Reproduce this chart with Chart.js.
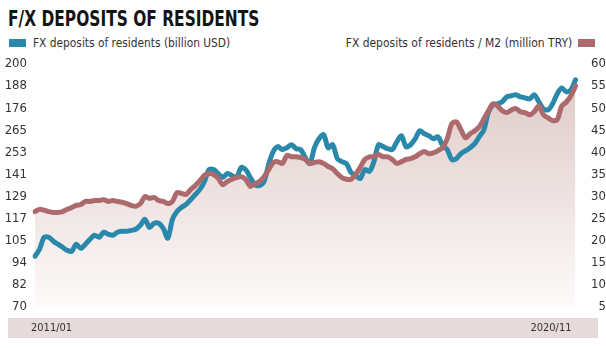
<!DOCTYPE html>
<html>
<head>
<meta charset="utf-8">
<script src="https://cdn.jsdelivr.net/npm/chart.js@4/dist/chart.umd.min.js"></script>
<style>
  body { margin: 0; width: 606px; height: 348px; background: #fff; overflow: hidden; position: relative;
         font-family: 'Liberation Sans Narrow', 'DejaVu Sans Condensed', 'Roboto', sans-serif; }
  #title { position: absolute; left: 8px; top: 6px; font-size: 22px; font-weight: bold; color: #141414;
           white-space: nowrap; transform: scaleX(0.78); transform-origin: left top; }
  .leg { position: absolute; top: 35px; font-size: 13px; color: #333; display: flex; align-items: center; white-space: nowrap; }
  .leg span.box { display: inline-block; width: 17px; height: 8px; }
  #legL { left: 9px; }
  #legL span.box { margin-right: 7px; background: #2a89ab; }
  #legL span.txt { display: inline-block; transform: scaleX(0.91); transform-origin: left center; }
  #legR { right: 11px; }
  #legR span.box { margin-left: 6px; background: #ad6a6c; }
  #legR span.txt { display: inline-block; transform: scaleX(0.92); transform-origin: right center; }
  #wrap { position: absolute; left: 0; top: 0; width: 606px; height: 348px; }
</style>
</head>
<body>
<div id="title">F/X DEPOSITS OF RESIDENTS</div>
<div class="leg" id="legL"><span class="box"></span><span class="txt">FX deposits of residents (billion USD)</span></div>
<div class="leg" id="legR"><span class="txt">FX deposits of residents / M2 (million TRY)</span><span class="box"></span></div>
<div id="wrap"><canvas id="chart" width="606" height="348"></canvas></div>

<script>
const FONT = "'Liberation Sans Narrow', 'DejaVu Sans Condensed', 'Roboto', sans-serif";
const BLUE = "#2a89ab";
const RED = "#ad6a6c";

// left axis tick text, bottom to top, as printed on the chart
const leftTickLabels = ["70", "82", "94", "105", "117", "129", "141", "253", "265", "176", "188", "200"];

// FX deposits of residents, billion USD, monthly 2011/01 - 2020/11
const usdDeposits = [
  97.2, 100.9, 107.3, 107.3, 105.2, 103.6, 102.0, 100.4, 99.8, 103.6,
  101.4, 103.6, 106.2, 108.4, 107.3, 110.0, 108.9, 108.4, 110.0, 110.5,
  110.5, 111.0, 111.6, 113.7, 116.9, 112.6, 114.8, 114.8, 112.1, 106.8,
  116.9, 121.1, 123.3, 124.9, 127.5, 130.2, 132.9, 137.1, 143.5, 143.5,
  141.4, 139.3, 141.4, 140.3, 139.3, 144.6, 143.5, 139.3, 135.5, 135.0,
  137.1, 146.2, 153.1, 155.8, 154.2, 155.2, 156.8, 154.7, 154.2, 149.9,
  146.7, 155.2, 160.0, 162.2, 155.2, 156.8, 149.4, 147.8, 146.7, 141.9,
  140.3, 138.7, 143.5, 142.5, 147.8, 156.8, 155.8, 154.7, 154.2, 158.4,
  161.6, 155.8, 156.8, 160.0, 164.3, 162.7, 161.6, 160.0, 161.1, 156.3,
  154.2, 148.9, 149.4, 152.1, 153.6, 155.2, 157.4, 161.1, 164.8, 174.4,
  178.2, 178.7, 179.8, 182.4, 183.0, 183.5, 182.4, 181.9, 181.4, 183.5,
  179.8, 176.0, 175.5, 178.7, 184.0, 187.2, 185.1, 186.2, 191.5
];

// FX deposits of residents / M2, monthly 2011/01 - 2020/11
const ratioM2 = [
  26.6, 27.1, 26.9, 26.6, 26.4, 26.4, 26.6, 27.1, 27.5, 28.0,
  28.2, 28.9, 28.9, 29.1, 29.1, 29.3, 28.9, 29.1, 28.9, 28.7,
  28.4, 28.0, 27.8, 28.4, 30.0, 29.6, 29.8, 29.1, 28.9, 28.4,
  28.9, 30.9, 30.7, 30.5, 31.6, 32.5, 33.6, 34.8, 35.2, 35.0,
  34.1, 32.7, 33.4, 33.9, 34.3, 34.5, 33.9, 32.3, 32.9, 33.4,
  34.5, 36.1, 37.7, 37.9, 37.5, 39.3, 39.0, 39.0, 38.8, 38.4,
  37.5, 37.7, 37.9, 37.5, 36.8, 36.3, 35.2, 34.3, 33.9, 33.9,
  35.0, 36.6, 38.4, 39.0, 39.0, 39.5, 39.0, 39.0, 38.4, 37.5,
  37.9, 38.4, 38.6, 39.0, 39.7, 40.2, 39.7, 39.9, 40.4, 41.1,
  43.1, 46.5, 46.9, 45.1, 43.3, 44.2, 44.9, 45.8, 47.6, 49.4,
  51.0, 50.5, 49.4, 49.0, 49.6, 49.9, 49.2, 49.0, 48.5, 49.2,
  50.5, 48.5, 47.8, 47.2, 47.4, 50.5, 51.4, 52.8, 55.0
];

const months = [];
for (let y = 2011; y <= 2020; y++) {
  for (let m = 1; m <= 12; m++) {
    if (y === 2020 && m > 11) break;
    months.push(y + "/" + String(m).padStart(2, "0"));
  }
}

const bandPlugin = {
  id: "band",
  beforeDraw(chart) {
    const c = chart.ctx;
    c.save();
    c.fillStyle = "#e6dada";
    c.fillRect(8, 318, 590, 20);
    c.restore();
  }
};

new Chart(document.getElementById("chart"), {
  type: "line",
  data: {
    labels: months,
    datasets: [
      {
        label: "FX deposits of residents / M2 (million TRY)",
        data: ratioM2,
        yAxisID: "yR",
        borderColor: RED,
        borderWidth: 5,
        pointRadius: 0,
        tension: 0.3,
        borderCapStyle: "round",
        borderJoinStyle: "round",
        fill: "start",
        backgroundColor: (ctx) => {
          const area = ctx.chart.chartArea;
          if (!area) return "rgba(220,200,198,0.6)";
          const g = ctx.chart.ctx.createLinearGradient(0, area.top, 0, area.bottom);
          g.addColorStop(0, "#dcc7c5");
          g.addColorStop(1, "#fdfafa");
          return g;
        }
      },
      {
        label: "FX deposits of residents (billion USD)",
        data: usdDeposits,
        yAxisID: "yL",
        borderColor: BLUE,
        borderWidth: 5,
        pointRadius: 0,
        tension: 0.3,
        borderCapStyle: "round",
        borderJoinStyle: "round",
        fill: false
      }
    ]
  },
  options: {
    responsive: false,
    animation: false,
    layout: { padding: { top: 64, left: 0, right: 0, bottom: 0 } },
    plugins: {
      legend: { display: false },
      tooltip: { enabled: false },
      filler: { drawTime: "beforeDatasetsDraw" }
    },
    scales: {
      x: {
        grid: { display: false, drawTicks: false },
        border: { display: false },
        afterFit: (s) => { s.height = 41; },
        ticks: {
          autoSkip: false,
          maxRotation: 0,
          align: "inner",
          labelOffset: -4,
          padding: 15,
          color: "#333",
          font: { family: FONT, size: 11 },
          callback: (v, i) => (i === 0 || i === months.length - 1) ? months[i] : ""
        }
      },
      yL: {
        position: "left",
        min: 70,
        max: 200,
        grid: { display: false, drawTicks: false },
        border: { display: false },
        afterFit: (s) => { s.width = 35; },
        afterBuildTicks: (s) => {
          s.ticks = leftTickLabels.map((_, i) => ({ value: 70 + i * 130 / 11 }));
        },
        ticks: {
          padding: 8,
          color: "#333",
          font: { family: FONT, size: 13 },
          callback: (v, i) => leftTickLabels[i]
        }
      },
      yR: {
        position: "right",
        min: 5,
        max: 60,
        grid: { display: false, drawTicks: false },
        border: { display: false },
        afterFit: (s) => { s.width = 30.5; },
        ticks: {
          stepSize: 5,
          padding: 7,
          crossAlign: "far",
          color: "#333",
          font: { family: FONT, size: 13 }
        }
      }
    }
  },
  plugins: [bandPlugin]
});
</script>
</body>
</html>
